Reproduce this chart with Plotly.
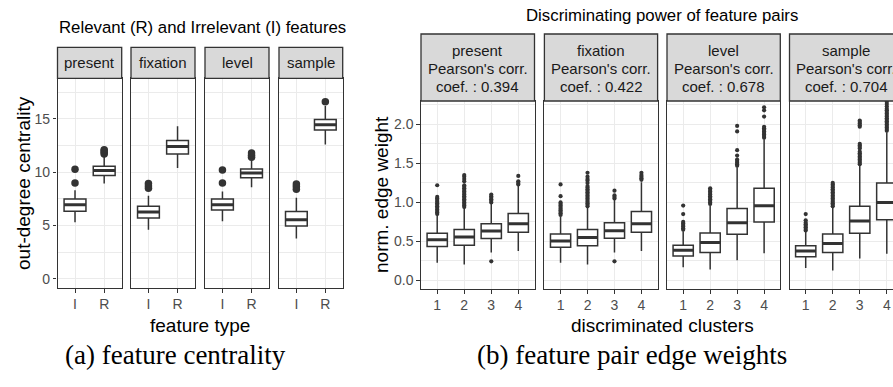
import plotly.graph_objects as go

W, H = 893, 387

# ---------------- data: left chart (feature centrality) ----------------
left_features = ["present", "fixation", "level", "sample"]
left_types = ["I", "R"]
# per feature: [I, R]
left_q1 = {"present": [6.35, 9.7], "fixation": [5.72, 11.7], "level": [6.45, 9.47], "sample": [4.97, 13.95]}
left_med = {"present": [6.96, 10.15], "fixation": [6.27, 12.4], "level": [6.96, 9.92], "sample": [5.55, 14.45]}
left_q3 = {"present": [7.5, 10.55], "fixation": [6.8, 12.98], "level": [7.5, 10.3], "sample": [6.33, 14.95]}
left_lo = {"present": [5.3, 8.95], "fixation": [4.6, 10.4], "level": [5.4, 8.6], "sample": [3.8, 12.6]}
left_hi = {"present": [8.3, 11.5], "fixation": [7.8, 14.3], "level": [8.2, 11.2], "sample": [7.6, 16.2]}
left_out = {
    "present": [[9.0, 10.28], [11.7, 11.85, 12.0, 12.1]],
    "fixation": [[8.5, 8.7, 8.95], []],
    "level": [[9.0, 10.2], [11.4, 11.6, 11.8]],
    "sample": [[8.4, 8.65, 8.9], [16.6]],
}

# ---------------- data: right chart (edge weights) ----------------
right_features = ["present", "fixation", "level", "sample"]
right_corr = ["0.394", "0.422", "0.678", "0.704"]
clusters = ["1", "2", "3", "4"]
right_q1 = {"present": [0.435, 0.45, 0.537, 0.617], "fixation": [0.424, 0.443, 0.539, 0.617],
            "level": [0.313, 0.357, 0.591, 0.748], "sample": [0.304, 0.357, 0.604, 0.778]}
right_med = {"present": [0.522, 0.555, 0.632, 0.726], "fixation": [0.506, 0.55, 0.637, 0.728],
             "level": [0.387, 0.487, 0.739, 0.957], "sample": [0.376, 0.474, 0.761, 1.0]}
right_q3 = {"present": [0.604, 0.652, 0.726, 0.857], "fixation": [0.596, 0.652, 0.739, 0.885],
            "level": [0.452, 0.609, 0.922, 1.183], "sample": [0.443, 0.596, 0.952, 1.248]}
right_lo = {"present": [0.226, 0.204, 0.357, 0.378], "fixation": [0.226, 0.204, 0.357, 0.378],
            "level": [0.17, 0.139, 0.257, 0.348], "sample": [0.16, 0.126, 0.28, 0.343]}
right_hi = {"present": [0.83, 0.92, 0.99, 1.21], "fixation": [0.82, 0.93, 1.03, 1.26],
            "level": [0.63, 0.96, 1.45, 1.81], "sample": [0.62, 0.93, 1.47, 1.9]}
right_out = {
    "present": [
        [0.85, 0.87, 0.89, 0.91, 0.93, 0.95, 0.97, 0.99, 1.01, 1.03, 1.05, 1.07, 1.22],
        [0.94, 0.96, 0.98, 1.0, 1.02, 1.04, 1.06, 1.08, 1.1, 1.12, 1.14, 1.16, 1.18, 1.2, 1.22, 1.27, 1.3, 1.33, 1.35],
        [1.0, 1.02, 1.04, 1.06, 1.08, 1.1, 0.245],
        [1.23, 1.25, 1.27, 1.34],
    ],
    "fixation": [
        [0.84, 0.86, 0.88, 0.9, 0.92, 0.94, 0.96, 0.98, 1.0, 1.08, 1.23],
        [0.95, 0.97, 0.99, 1.01, 1.03, 1.05, 1.07, 1.09, 1.11, 1.13, 1.15, 1.17, 1.19, 1.21, 1.25, 1.28, 1.3, 1.33, 1.38],
        [1.05, 1.07, 1.09, 1.15, 0.245],
        [1.29, 1.31, 1.33, 1.35, 1.38],
    ],
    "level": [
        [0.65, 0.67, 0.69, 0.71, 0.73, 0.75, 0.85, 0.96],
        [0.98, 1.0, 1.02, 1.04, 1.06, 1.08, 1.1, 1.12, 1.14, 1.16, 1.18],
        [1.47, 1.49, 1.51, 1.53, 1.55, 1.6, 1.67, 1.91, 1.98],
        [1.83, 1.85, 1.87, 1.89, 1.91, 1.93, 1.95, 1.97, 2.1, 2.18, 2.22],
    ],
    "sample": [
        [0.64, 0.66, 0.68, 0.7, 0.72, 0.74, 0.77, 0.85],
        [0.95, 0.97, 0.99, 1.01, 1.03, 1.05, 1.07, 1.09, 1.11, 1.13, 1.15, 1.17, 1.19, 1.21, 1.23, 1.25],
        [1.49, 1.51, 1.53, 1.55, 1.57, 1.59, 1.61, 1.63, 1.65, 1.69, 1.71, 1.73, 1.75, 1.97, 1.99, 2.01, 2.03, 2.05],
        [1.92, 1.94, 1.96, 1.98, 2.0, 2.02, 2.04, 2.06, 2.08, 2.1, 2.12, 2.14, 2.16, 2.18, 2.2, 2.23, 2.26, 2.29],
    ],
}

left_yticks = [0, 5, 10, 15]
right_yticks = [0.0, 0.5, 1.0, 1.5, 2.0]
right_ytick_text = ["0.0", "0.5", "1.0", "1.5", "2.0"]

# ---------------- styling ----------------
FONT = "Liberation Sans"
DARK = "#333333"
GRID = "#EBEBEB"
TICKC = "#4D4D4D"
BOXW = 0.75

left_panels_px = [(57.5, 121.7), (131.0, 195.0), (205.0, 269.0), (279.0, 342.7)]
left_plot_y = (78.3, 288.0)
left_strip_y = (47.3, 78.3)
right_panels_px = [(421.0, 534.5), (544.4, 657.6), (667.0, 780.3), (789.5, 903.0)]
right_plot_y = (101.0, 289.0)
right_strip_y = (34.0, 101.0)


def fx(p):
    return min(max(p / W, 0.0), 1.0)


def fy(p):
    return 1 - p / H


fig = go.Figure()
layout = dict(width=W, height=H, margin=dict(l=0, r=0, t=0, b=0), autosize=False,
              paper_bgcolor="white", plot_bgcolor="white", showlegend=False,
              font=dict(family=FONT, color=TICKC))
shapes = []
annotations = []


def add_panel(idx, xpx, ypx, positions, ticktext, xrange_, yrange_, yticks, yticktext, first, ylabel_minor,
              q1, med, q3, lo, hi, outs, msize, right_cut=False):
    xa = "xaxis" if idx == 1 else f"xaxis{idx}"
    ya = "yaxis" if idx == 1 else f"yaxis{idx}"
    xr = "x" if idx == 1 else f"x{idx}"
    yr = "y" if idx == 1 else f"y{idx}"
    x0, x1 = xpx
    layout[xa] = dict(domain=[fx(x0), fx(x1)], anchor=yr, range=xrange_, tickvals=positions, ticktext=ticktext,
                      showgrid=True, gridcolor=GRID, gridwidth=1.1, zeroline=False, showline=True,
                      linecolor=DARK, linewidth=1.3, mirror=True, ticks="outside", ticklen=3.5, tickwidth=1.1,
                      tickcolor=DARK, tickfont=dict(size=14, color=TICKC, family=FONT), fixedrange=True)
    layout[ya] = dict(domain=[fy(ypx[1]), fy(ypx[0])], anchor=xr, range=yrange_, tickvals=yticks,
                      ticktext=yticktext, showgrid=True, gridcolor=GRID, gridwidth=1.1, zeroline=False,
                      showline=True, linecolor=DARK, linewidth=1.3, mirror=(not right_cut),
                      ticks="outside" if first else "", ticklen=3.5, tickwidth=1.1, tickcolor=DARK,
                      showticklabels=first, tickfont=dict(size=14, color=TICKC, family=FONT),
                      minor=dict(tickvals=ylabel_minor, showgrid=True, gridcolor=GRID, gridwidth=0.6, ticks=""),
                      fixedrange=True)
    fig.add_trace(go.Box(x=positions, q1=q1, median=med, q3=q3, lowerfence=lo, upperfence=hi,
                         width=BOXW, whiskerwidth=0, fillcolor="white", boxpoints=False,
                         line=dict(color=DARK, width=1.5), xaxis=xr, yaxis=yr, hoverinfo="skip"))
    mx, my = [], []
    for p, m in zip(positions, med):
        mx += [p - BOXW / 2, p + BOXW / 2, None]
        my += [m, m, None]
    fig.add_trace(go.Scatter(x=mx, y=my, mode="lines", line=dict(color=DARK, width=3), xaxis=xr, yaxis=yr,
                             hoverinfo="skip"))
    ox, oy = [], []
    for p, vals in zip(positions, outs):
        ox += [p] * len(vals)
        oy += vals
    fig.add_trace(go.Scatter(x=ox, y=oy, mode="markers", marker=dict(color=DARK, size=msize, line=dict(width=0)),
                             xaxis=xr, yaxis=yr, hoverinfo="skip", cliponaxis=True))


# left chart
idx = 1
for i, f in enumerate(left_features):
    add_panel(idx, left_panels_px[i], left_plot_y, [1, 2], left_types, [0.4, 2.6], [-0.85, 18.8],
              left_yticks, [str(v) for v in left_yticks], i == 0, [2.5, 7.5, 12.5, 17.5],
              left_q1[f], left_med[f], left_q3[f], left_lo[f], left_hi[f], left_out[f], 7.5)
    x0, x1 = left_panels_px[i]
    shapes.append(dict(type="rect", xref="paper", yref="paper", x0=x0 / W, x1=x1 / W,
                       y0=fy(left_strip_y[1]), y1=fy(left_strip_y[0]), fillcolor="#D9D9D9",
                       line=dict(color=DARK, width=1.3), layer="above"))
    annotations.append(dict(text=f, x=(x0 + x1) / 2 / W, y=fy((left_strip_y[0] + left_strip_y[1]) / 2),
                            xref="paper", yref="paper", showarrow=False, xanchor="center", yanchor="middle",
                            font=dict(size=15, color="#1A1A1A", family=FONT)))
    idx += 1

# right chart
right_span = 113.5 / 4.2
for i, f in enumerate(right_features):
    x0, x1 = right_panels_px[i]
    cut = x1 > W
    xr_ = [0.4, 0.4 + (min(x1, W) - x0) / right_span] if cut else [0.4, 4.6]
    add_panel(idx, (x0, min(x1, W)), right_plot_y, [1, 2, 3, 4], clusters, xr_, [-0.11, 2.30],
              right_yticks, right_ytick_text, i == 0, [0.25, 0.75, 1.25, 1.75, 2.25],
              right_q1[f], right_med[f], right_q3[f], right_lo[f], right_hi[f], right_out[f], 4.2,
              right_cut=cut)
    shapes.append(dict(type="rect", xref="paper", yref="paper", x0=x0 / W, x1=x1 / W,
                       y0=fy(right_strip_y[1]), y1=fy(right_strip_y[0]), fillcolor="#D9D9D9",
                       line=dict(color=DARK, width=1.3), layer="above"))
    lines = [f, "Pearson's corr.", "coef. : " + right_corr[i]]
    for k, t in enumerate(lines):
        annotations.append(dict(text=t, x=(x0 + x1) / 2 / W, y=fy(50.5 + 17.9 * k),
                                xref="paper", yref="paper", showarrow=False, xanchor="center",
                                yanchor="middle", font=dict(size=15, color="#1A1A1A", family=FONT)))
    idx += 1

# titles and labels
def label(text, xp, yp, size, color="black", angle=0, family=FONT):
    annotations.append(dict(text=text, x=xp / W, y=fy(yp), xref="paper", yref="paper", showarrow=False,
                            xanchor="center", yanchor="middle", textangle=angle,
                            font=dict(size=size, color=color, family=family)))


label("Relevant (R) and Irrelevant (I) features", 202.5, 28, 16.8)
label("Discriminating power of feature pairs", 662, 15.5, 16.8)
label("out-degree centrality", 24, 183, 19, angle=-90)
label("norm. edge weight", 381, 195, 19, angle=-90)
label("feature type", 200, 325, 19)
label("discriminated clusters", 662, 325, 19)
label("(a) feature centrality", 175, 355, 27, family="Liberation Serif")
label("(b) feature pair edge weights", 632, 355, 27, family="Liberation Serif")

layout["shapes"] = shapes
layout["annotations"] = annotations
fig.update_layout(**layout)
fig.write_html("out.html")
